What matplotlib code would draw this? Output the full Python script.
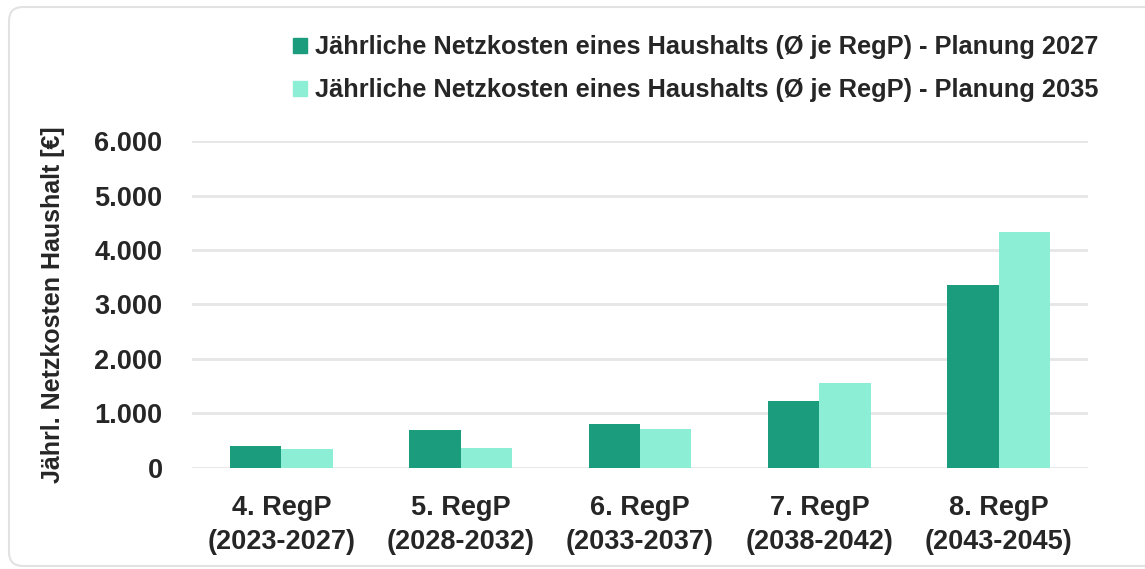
import numpy as np
import matplotlib
matplotlib.use("Agg")
import matplotlib.pyplot as plt
from matplotlib.patches import FancyBboxPatch, Patch
from matplotlib.ticker import FuncFormatter

# data
periods = ["4. RegP\n(2023-2027)", "5. RegP\n(2028-2032)", "6. RegP\n(2033-2037)",
           "7. RegP\n(2038-2042)", "8. RegP\n(2043-2045)"]
plan_2027 = [400, 700, 800, 1230, 3360]
plan_2035 = [350, 370, 720, 1550, 4330]
series_names = ["Jährliche Netzkosten eines Haushalts (Ø je RegP) - Planung 2027",
                "Jährliche Netzkosten eines Haushalts (Ø je RegP) - Planung 2035"]
yticks = [0, 1000, 2000, 3000, 4000, 5000, 6000]

dark = "#1b9c7c"
light = "#8deed6"
plt.rcParams["font.family"] = ["Liberation Sans", "DejaVu Sans"]

fig = plt.figure(figsize=(11.45, 5.69), dpi=100)
ax = fig.add_axes([0.1674, 0.178, 0.7831, 0.574])

# card outline behind the chart
card = FancyBboxPatch((9, 3), 1170, 559, boxstyle="round,pad=0,rounding_size=14",
                      transform=None, facecolor="white", edgecolor="#e2e2e2",
                      linewidth=1.5, zorder=-10)
fig.patches.append(card)

x = np.arange(len(periods))
w = 0.287
ax.bar(x - w / 2, plan_2027, width=w, color=dark, zorder=3)
ax.bar(x + w / 2, plan_2035, width=w, color=light, zorder=3)

ax.set_xlim(-0.5, len(periods) - 0.5)
ax.set_ylim(0, 6000)
ax.set_yticks(yticks)
ax.yaxis.set_major_formatter(FuncFormatter(lambda v, p: f"{int(v):,}".replace(",", ".")))
ax.grid(axis="y", color="#e6e6e6", linewidth=2, zorder=0)
for s in ax.spines.values():
    s.set_visible(False)
ax.tick_params(axis="both", length=0, colors="#262626")
ax.tick_params(axis="y", pad=21, labelsize=19.5)
ax.tick_params(axis="x", pad=20, labelsize=19.5)
for t in ax.get_yticklabels():
    t.set_fontweight("bold")
ax.set_xticks(x)
ax.set_xticklabels(periods, fontweight="bold", linespacing=1.4)

ax.set_ylabel("Jährl. Netzkosten Haushalt [€]", fontweight="bold",
              fontsize=18, color="#262626", labelpad=21)

handles = [Patch(color=dark), Patch(color=light)]
leg = fig.legend(handles, series_names, loc="upper left", bbox_to_anchor=(0.236, 0.978),
                 frameon=False, prop={"weight": "bold", "size": 18.3},
                 handlelength=0.55, handleheight=0.55, handletextpad=0.3, labelspacing=0.75)
for t in leg.get_texts():
    t.set_color("#262626")

fig.savefig("out.png", dpi=100)
